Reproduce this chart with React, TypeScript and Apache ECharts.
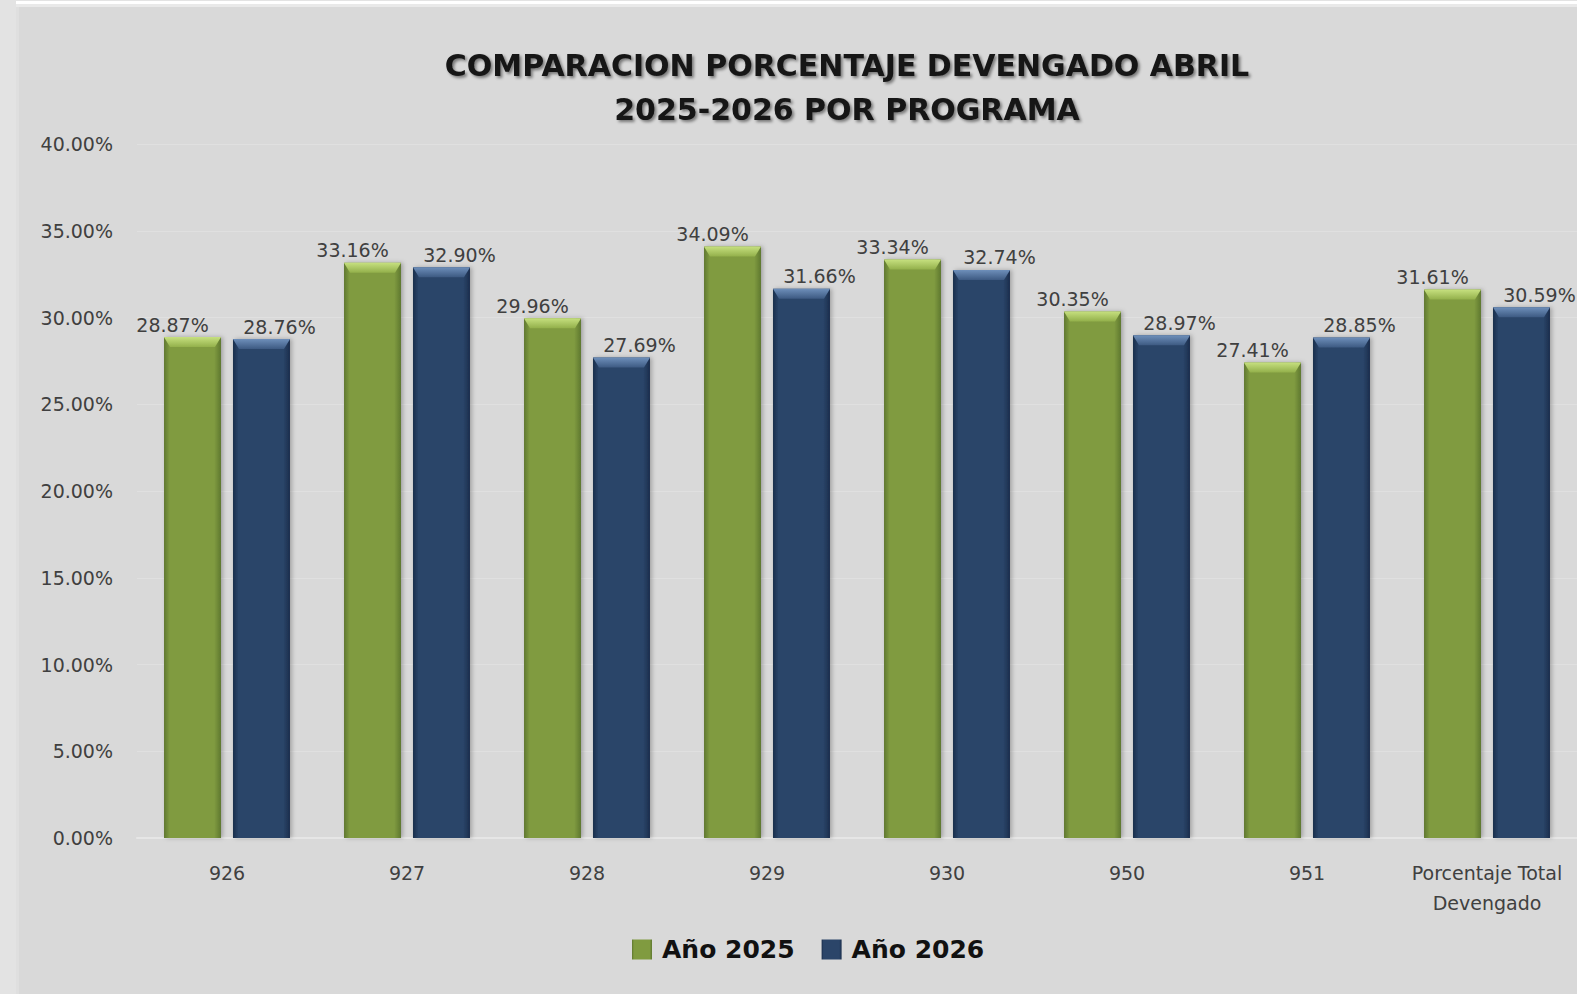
import React, { useEffect, useRef } from "react";
import * as echarts from "echarts";

const categories = ["926", "927", "928", "929", "930", "950", "951", "Porcentaje Total\nDevengado"];
const serie2025 = [28.87, 33.16, 29.96, 34.09, 33.34, 30.35, 27.41, 31.61];
const serie2026 = [28.76, 32.9, 27.69, 31.66, 32.74, 28.97, 28.85, 30.59];
const seriesNames = ["Año 2025", "Año 2026"];
const titleText = "COMPARACION PORCENTAJE DEVENGADO ABRIL\n2025-2026 POR PROGRAMA";

const FONT = "DejaVu Sans";

function hGrad(edge: string, main: string) {
  return new echarts.graphic.LinearGradient(0, 0, 1, 0, [
    { offset: 0, color: edge },
    { offset: 0.1, color: main },
    { offset: 0.88, color: main },
    { offset: 1, color: edge },
  ]);
}
function vGrad(top: string, bottom: string) {
  return new echarts.graphic.LinearGradient(0, 0, 0, 1, [
    { offset: 0, color: top },
    { offset: 1, color: bottom },
  ]);
}

export default function App() {
  const ref = useRef<HTMLDivElement>(null);
  useEffect(() => {
    if (!ref.current) return;
    const chart = echarts.init(ref.current, undefined, { renderer: "svg" });
    const barW = 57;
    const half = 34.5;
    const bevel = "path://M0,0 L56,0 L50,10 L6,10 Z";
    chart.setOption({
      animation: false,
      backgroundColor: "#d9d9d9",
      title: {
        text: titleText,
        left: 842,
        top: 38,
        textAlign: "center",
        textStyle: {
          fontFamily: FONT,
          fontSize: 30,
          fontWeight: "bold",
          lineHeight: 44,
          color: "#141414",
          textShadowColor: "rgba(0,0,0,0.45)",
          textShadowBlur: 3,
          textShadowOffsetX: 2,
          textShadowOffsetY: 2,
        },
      },
      graphic: [
        { type: "rect", shape: { x: 0, y: 0, width: 16, height: 994 }, style: { fill: "#e3e3e3" }, silent: true },
        { type: "rect", shape: { x: 16, y: 0, width: 1561, height: 1 }, style: { fill: "#e3e3e3" }, silent: true },
        { type: "rect", shape: { x: 16, y: 1, width: 1561, height: 3 }, style: { fill: "#ffffff" }, silent: true },
        { type: "rect", shape: { x: 16, y: 4, width: 1561, height: 3 }, style: { fill: "#e9e9e9" }, silent: true },
        { type: "rect", shape: { x: 16, y: 7, width: 3, height: 987 }, style: { fill: "#dfdfdf" }, silent: true },
      ],
      legend: {
        data: seriesNames,
        left: 627,
        top: 932,
        itemWidth: 20,
        itemHeight: 20,
        itemGap: 27,
        icon: "rect",
        textStyle: {
          fontFamily: FONT,
          fontSize: 25,
          fontWeight: "bold",
          color: "#111111",
          padding: [0, 0, 0, 5],
        },
      },
      grid: { left: 137, right: 0, top: 144, bottom: 156, containLabel: false },
      xAxis: {
        type: "category",
        data: categories,
        axisTick: { show: false },
        axisLine: { show: true, lineStyle: { color: "#e6e6e6", width: 2 } },
        axisLabel: {
          fontFamily: FONT,
          fontSize: 19,
          color: "#404040",
          margin: 20,
          lineHeight: 30,
          interval: 0,
        },
      },
      yAxis: {
        type: "value",
        min: 0,
        max: 40,
        interval: 5,
        axisLine: { show: false },
        axisTick: { show: false },
        splitLine: { lineStyle: { color: "#e0e0e0", width: 1 } },
        axisLabel: {
          fontFamily: FONT,
          fontSize: 19,
          color: "#404040",
          margin: 24,
          formatter: (v: number) => v.toFixed(2) + "%",
        },
      },
      series: [
        {
          name: seriesNames[0],
          type: "bar",
          data: serie2025,
          barWidth: barW,
          barGap: "21%",
          itemStyle: {
            color: hGrad("#5f7830", "#809b40"),
            shadowColor: "rgba(0,0,0,0.25)",
            shadowBlur: 4,
            shadowOffsetX: 2,
          },
          label: {
            show: true,
            position: "top",
            distance: 3,
            offset: [-20, 0],
            fontFamily: FONT,
            fontSize: 19,
            color: "#404040",
            formatter: (p: any) => p.value.toFixed(2) + "%",
          },
          z: 2,
        },
        {
          name: seriesNames[1],
          type: "bar",
          data: serie2026,
          barWidth: barW,
          barGap: "21%",
          itemStyle: {
            color: hGrad("#1a2e4c", "#2b4569"),
            shadowColor: "rgba(0,0,0,0.25)",
            shadowBlur: 4,
            shadowOffsetX: 2,
          },
          label: {
            show: true,
            position: "top",
            distance: 3,
            offset: [18, 0],
            fontFamily: FONT,
            fontSize: 19,
            color: "#404040",
            formatter: (p: any) => p.value.toFixed(2) + "%",
          },
          z: 2,
        },
        {
          name: "cap2025",
          type: "pictorialBar",
          data: serie2025,
          symbol: bevel,
          symbolSize: [barW, 10],
          symbolPosition: "end",
          symbolOffset: [-half, 0],
          itemStyle: { color: vGrad("#c6e07f", "#93b04b") },
          z: 5,
          silent: true,
        },
        {
          name: "cap2026",
          type: "pictorialBar",
          data: serie2026,
          symbol: bevel,
          symbolSize: [barW, 10],
          symbolPosition: "end",
          symbolOffset: [half, 0],
          itemStyle: { color: vGrad("#6e8fba", "#3d5a82") },
          z: 5,
          silent: true,
        },
      ],
    });
    return () => chart.dispose();
  }, []);
  return (
    <div
      ref={ref}
      style={{ position: "fixed", left: 0, top: 0, width: 1577, height: 994 }}
    />
  );
}
